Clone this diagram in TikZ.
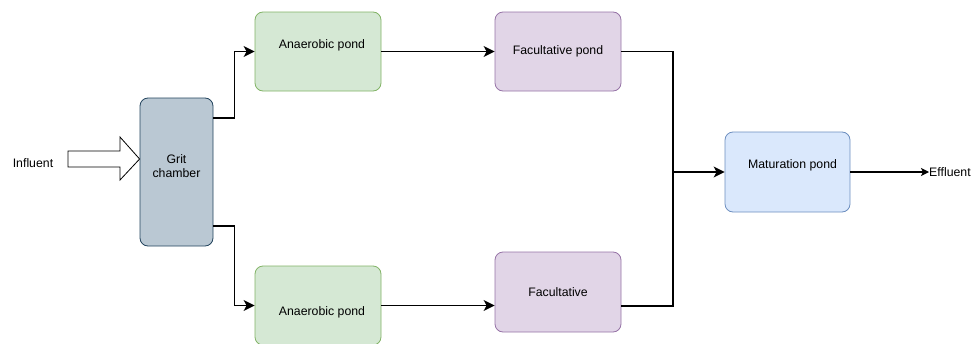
\documentclass[tikz,border=0pt]{standalone}
\usepackage{fontspec}
\setmainfont{Liberation Sans}
\usetikzlibrary{arrows.meta}

\definecolor{anaFill}{HTML}{D5E8D4}
\definecolor{anaLine}{HTML}{82B366}
\definecolor{facFill}{HTML}{E1D5E7}
\definecolor{facLine}{HTML}{9673A6}
\definecolor{matFill}{HTML}{DAE8FC}
\definecolor{matLine}{HTML}{6C8EBF}
\definecolor{gritFill}{HTML}{BAC8D3}
\definecolor{gritLine}{HTML}{23445D}

\begin{document}
\begin{tikzpicture}[x=1pt, y=-1pt,
    every node/.style={font=\fontsize{12.3}{14}\selectfont},
    pond/.style={draw, rounded corners=8pt, line width=0.8pt,
        minimum width=126pt, minimum height=79pt, inner sep=0pt},
    flow/.style={line width=1.2pt, -{Stealth[length=11pt,width=11pt,inset=3pt]}},
    pipe/.style={line width=1.2pt}]
    \useasboundingbox (0,0) rectangle (972,343);

    % Define the positions of the ponds
    \coordinate (gritPos) at (176.5, 172);
    \coordinate (anaTopPos) at (318, 51.5);
    \coordinate (facTopPos) at (558, 51.5);
    \coordinate (anaBotPos) at (318, 305.5);
    \coordinate (facBotPos) at (558, 292);
    \coordinate (matPos) at (787.5, 172);
    \coordinate (joint) at (673, 172);

    % Draw the ponds
    \node[pond, fill=gritFill, draw=gritLine, minimum width=73pt, minimum height=148pt,
        label={[yshift=6pt, align=center]center:Grit\\chamber}] (grit) at (gritPos) {};
    \node[pond, fill=anaFill, draw=anaLine,
        label={[yshift=6.5pt, xshift=4pt]center:Anaerobic pond}] (anaTop) at (anaTopPos) {};
    \node[pond, fill=facFill, draw=facLine,
        label={center:Facultative pond}] (facTop) at (facTopPos) {};
    \node[pond, fill=anaFill, draw=anaLine,
        label={[yshift=-6.5pt, xshift=4pt]center:Anaerobic pond}] (anaBot) at (anaBotPos) {};
    \node[pond, fill=facFill, draw=facLine, minimum height=80pt,
        label={center:Facultative}] (facBot) at (facBotPos) {};
    \node[pond, fill=matFill, draw=matLine, minimum width=125pt, minimum height=80pt,
        label={[yshift=7pt, xshift=5pt]center:Maturation pond}] (mat) at (matPos) {};

    % Draw the labels
    \node (infl) at (33, 163) {Influent};
    \node[anchor=west, inner sep=0pt] (effl) at (929, 172) {Effluent};

    % Draw the inlet arrow
    \draw[line width=0.8pt, line join=miter]
        (68,151) -- (120,151) -- (120,137) -- (grit.west |- 0,159)
        -- (120,180) -- (120,167) -- (68,167) -- cycle;

    % Draw the lines
    \draw[flow] (grit.east |- 0,118) -- +(21,0) |- (anaTop.west);
    \draw[flow] (grit.east |- 0,226) -- +(21,0) |- (anaBot.west);
    \draw[flow] (anaTop.east) -- (facTop.west);
    \draw[flow] (anaBot.east) -- (anaBot.east -| facBot.west);
    \draw[pipe] (facTop.east) -| (joint) |- (facBot.east |- 0,306);
    \draw[flow] (joint) -- (mat.west);
    \draw[line width=1.2pt, -{Stealth[length=8pt,width=8pt,inset=2pt]}] (mat.east) -- (effl.west);

\end{tikzpicture}
\end{document}
